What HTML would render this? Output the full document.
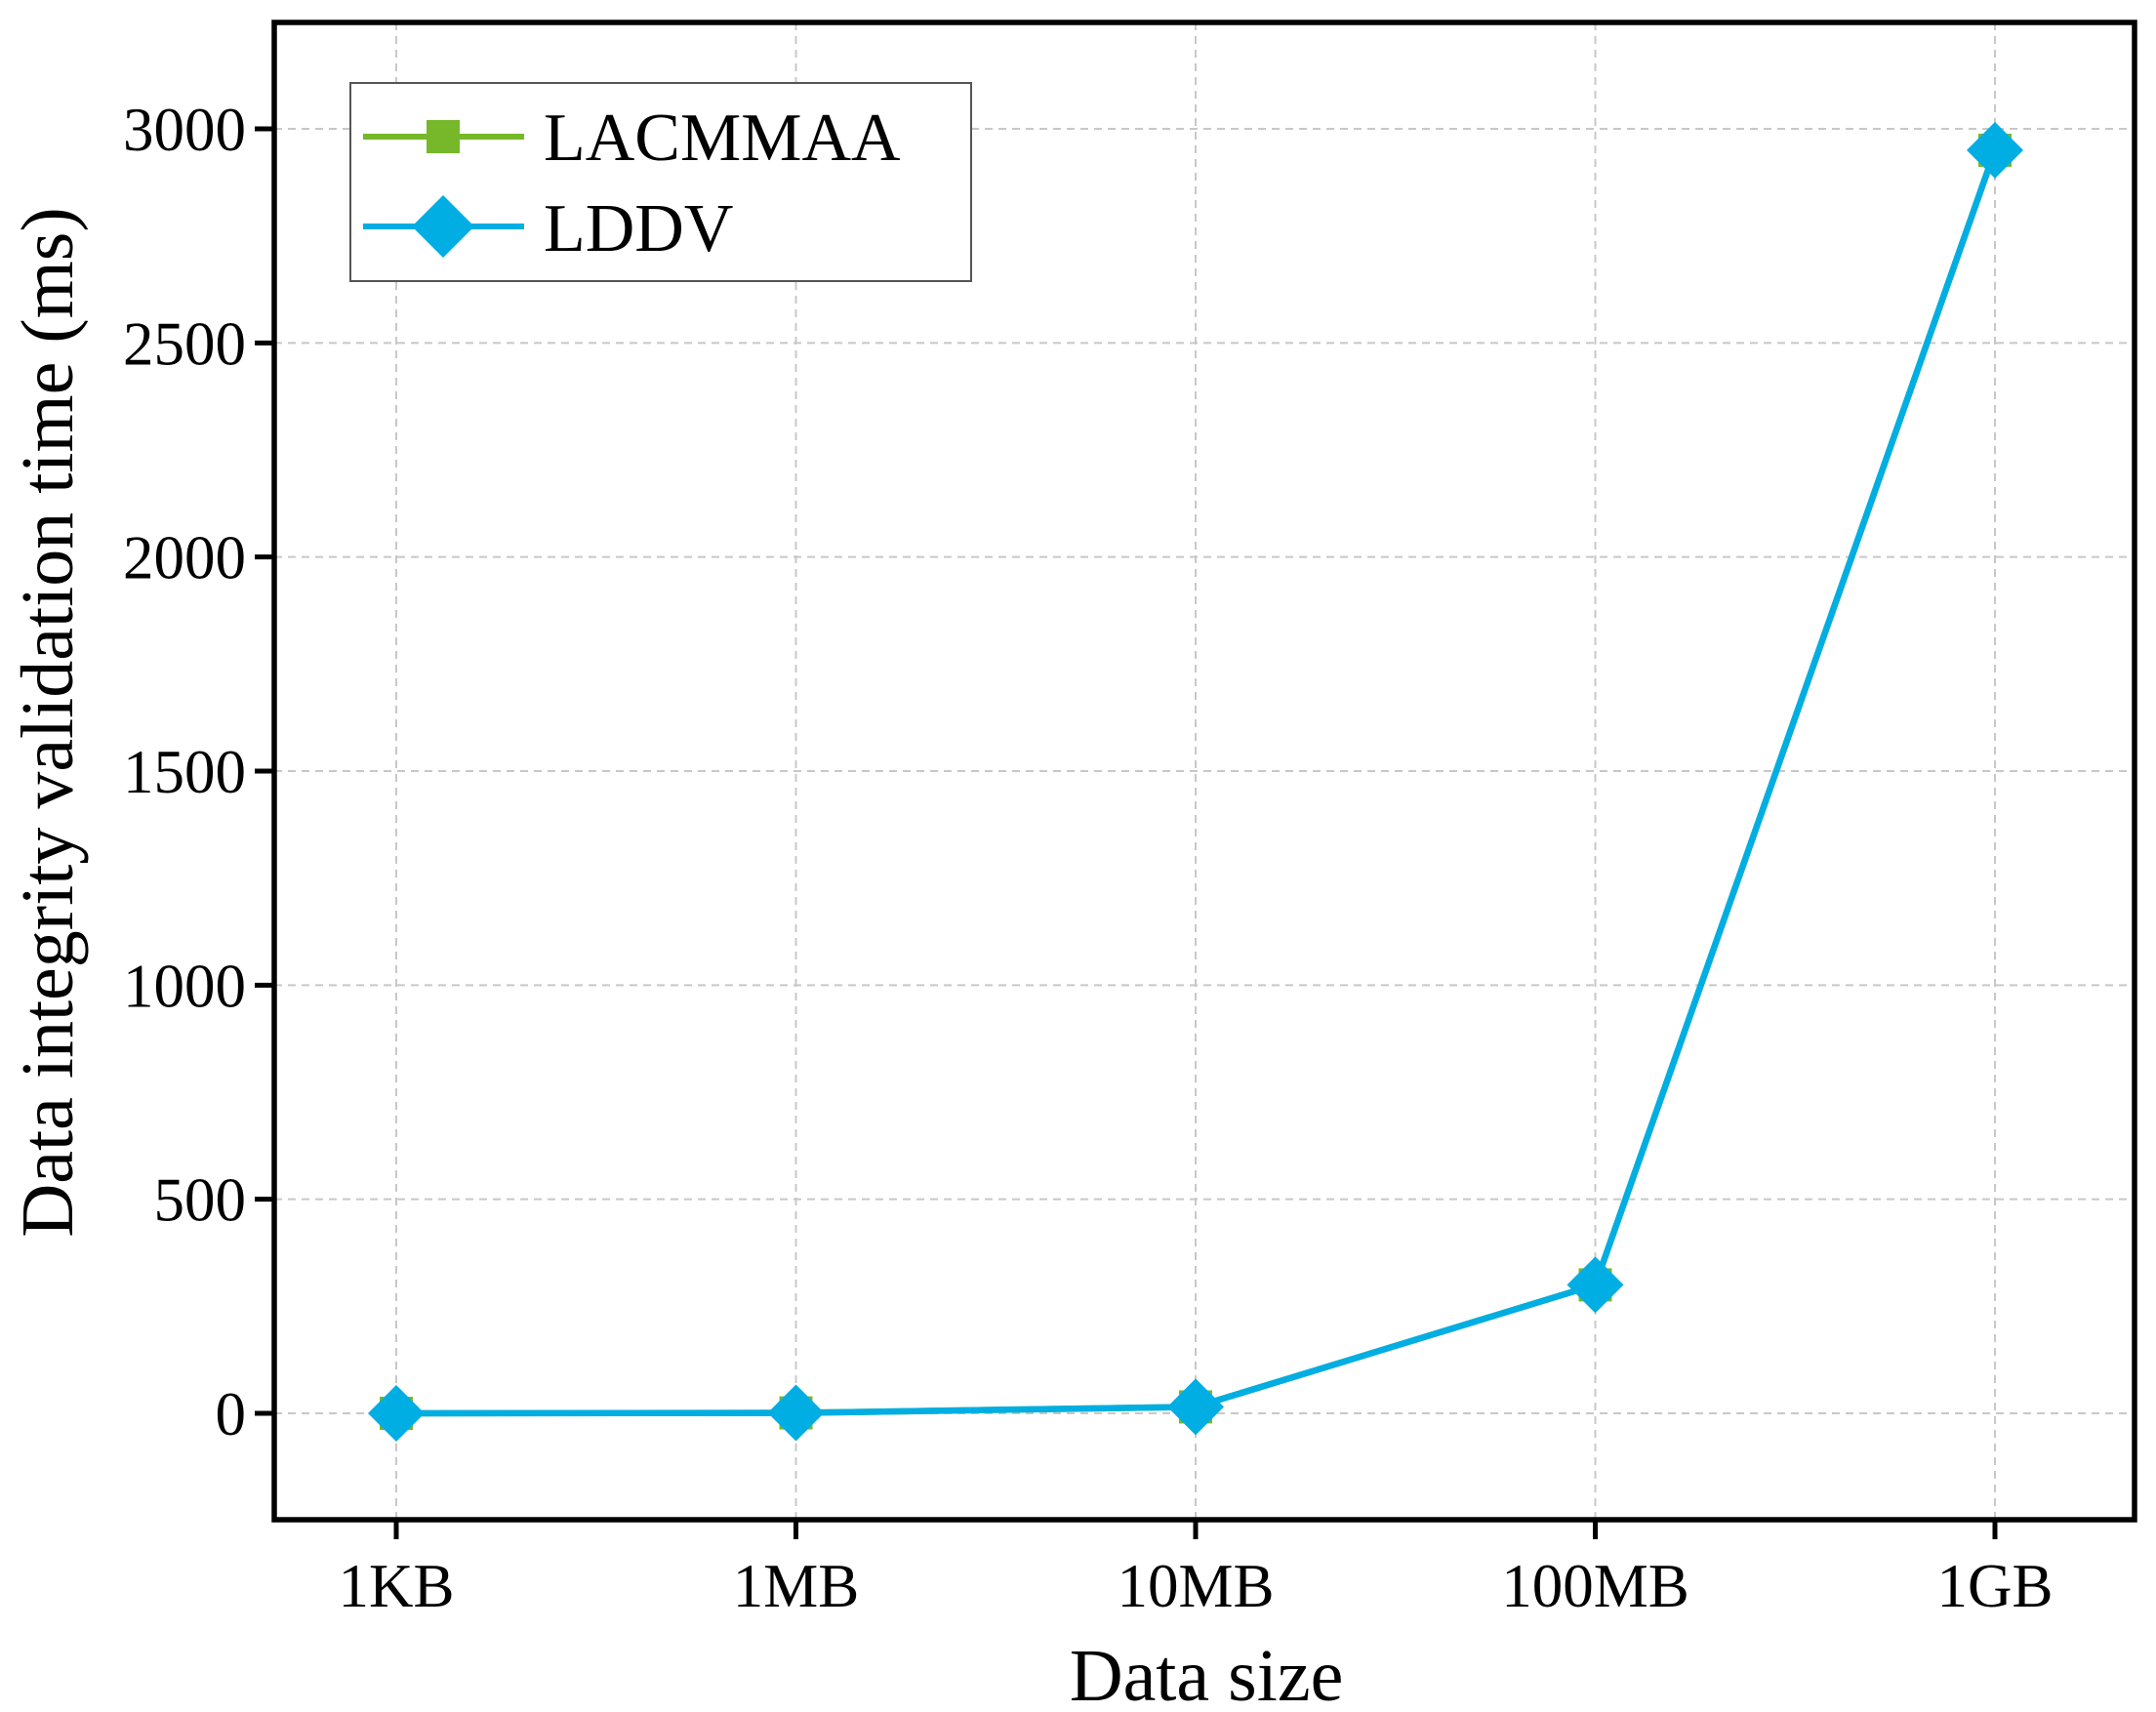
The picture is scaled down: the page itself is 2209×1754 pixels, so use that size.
<!DOCTYPE html>
<html><head><meta charset="utf-8"><style>html,body{margin:0;padding:0;background:#fff}svg{display:block}</style></head>
<body>
<svg id="chart" width="2209" height="1754" viewBox="0 0 2209 1754" xmlns="http://www.w3.org/2000/svg" font-family="Liberation Serif, serif">
<g id="grid"></g>
<g id="axes"></g>
<g id="series"></g>
<rect x="281" y="23" width="1906" height="1534" fill="none" stroke="#000" stroke-width="5.5"/>
<text x="1236" y="1742" font-size="76" text-anchor="middle">Data size</text>
<text transform="translate(74,740) rotate(-90)" font-size="76" text-anchor="middle">Data integrity validation time (ms)</text>
<g>
<rect x="359" y="85" width="636" height="203" fill="#fff" stroke="#555" stroke-width="2"/>
<g>
<line x1="372" y1="140" x2="537" y2="140" stroke="#76b82a" stroke-width="6"/>
<rect x="437" y="123" width="34" height="34" fill="#76b82a"/>
<text x="557" y="164" font-size="70">LACMMAA</text></g>
<g>
<line x1="372" y1="232" x2="537" y2="232" stroke="#00aee3" stroke-width="6"/>
<polygon points="454,200 486,232 454,264 422,232" fill="#00aee3"/>
<text x="557" y="257" font-size="70">LDDV</text></g>
</g>
</svg>
<script>
const categories = ["1KB","1MB","10MB","100MB","1GB"];
const lacmmaaValues = [0, 1, 15, 300, 2950];
const lddvValues = [0, 1, 15, 300, 2950];
const yTicks = [0, 500, 1000, 1500, 2000, 2500, 3000];
const NS = "http://www.w3.org/2000/svg";
const L=281,R=2187,T=23,B=1557;
function xs(i){return 406 + i*409.5;}
function ys(v){return 1448 - v*(1448-132)/3000;}
function mk(tag,attrs,parent){const e=document.createElementNS(NS,tag);for(const k in attrs)e.setAttribute(k,attrs[k]);parent.appendChild(e);return e;}
const grid=document.getElementById('grid'),axes=document.getElementById('axes'),series=document.getElementById('series');
yTicks.forEach(v=>{const y=ys(v);
 const g=mk('line',{x1:L,x2:R,y1:y,y2:y,stroke:'#c8c8c8','stroke-width':2,'stroke-dasharray':'8,6'},grid);
 
 
 const t=mk('line',{x1:L-20,x2:L,y1:y,y2:y,stroke:'#000','stroke-width':5},axes);
 
 
 const lb=mk('text',{x:252,y:y+22,'font-size':63,'text-anchor':'end'},axes);lb.textContent=v;
 
 
});
categories.forEach((c,i)=>{const x=xs(i);
 const g=mk('line',{x1:x,x2:x,y1:T,y2:B,stroke:'#c8c8c8','stroke-width':2,'stroke-dasharray':'8,6'},grid);
 
 
 const t=mk('line',{x1:x,x2:x,y1:B,y2:B+20,stroke:'#000','stroke-width':5},axes);
 
 
 const lb=mk('text',{x:x,y:1646,'font-size':63,'text-anchor':'middle'},axes);lb.textContent=c;
 
 
});
function drawLine(vals,color,name){
 const p=mk('polyline',{points:vals.map((v,i)=>xs(i)+','+ys(v)).join(' '),fill:'none',stroke:color,'stroke-width':6.5},series);
 
 
}
drawLine(lacmmaaValues,'#76b82a','lacmmaa');
drawLine(lddvValues,'#00aee3','lddv');
lacmmaaValues.forEach((v,i)=>{const r=mk('rect',{x:xs(i)-17,y:ys(v)-17,width:34,height:34,fill:'#76b82a'},series);
 
 });
lddvValues.forEach((v,i)=>{const x=xs(i),y=ys(v);
 const d=mk('polygon',{points:`${x},${y-29} ${x+29},${y} ${x},${y+29} ${x-29},${y}`,fill:'#00aee3'},series);
 
 });
</script>
</body></html>
